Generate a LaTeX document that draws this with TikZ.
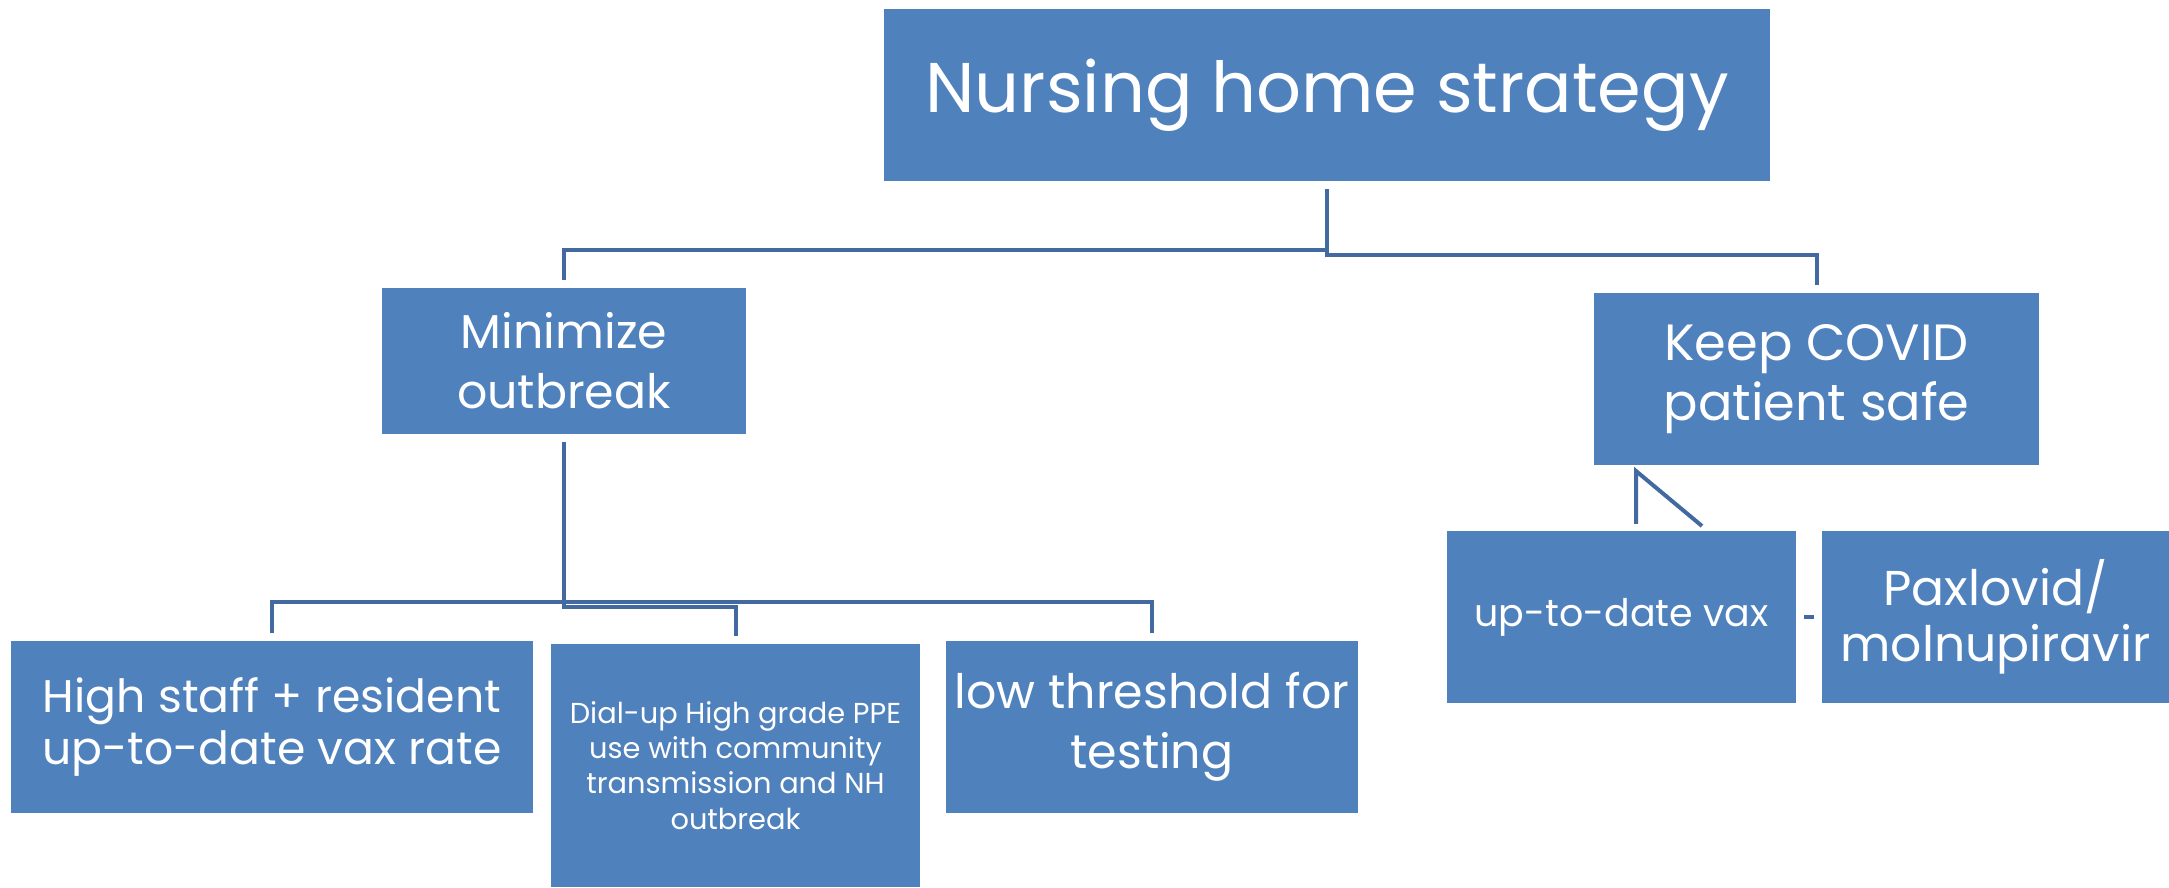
\documentclass[tikz,border=0pt]{standalone}
\usepackage{fontspec}
\setmainfont{Poppins}
\usepackage{tikz}
\usetikzlibrary{positioning}

\definecolor{boxblue}{RGB}{79,129,189}
\definecolor{linkblue}{RGB}{66,106,161}

\begin{document}
\begin{tikzpicture}[x=0.01cm,y=-0.01cm,line width=0.04cm,
                 		   link/.style={draw=linkblue,shorten <=0.06cm,shorten >=0.06cm}]
 				\tikzstyle{box}=[fill=boxblue,text=white,align=center,inner sep=0pt]
 				\tikzstyle{big}=[font=\fontsize{20}{24}\selectfont]
 				\tikzstyle{mid}=[font=\fontsize{13.5}{17}\selectfont]
 				\tikzstyle{small}=[font=\fontsize{8.2}{10}\selectfont]
				\useasboundingbox (0,0) rectangle (2169,887);

				\node[box,big,minimum width=8.86cm,minimum height=1.72cm]	(nhs)	at (1327,95)	{Nursing home strategy};
				\node[box,mid,minimum width=3.64cm,minimum height=1.46cm]	(minimize)	at (564,361)	{Minimize\\outbreak};
				\node[box,font=\fontsize{14.5}{17}\selectfont,minimum width=4.45cm,minimum height=1.71cm]	(keep)	at (1816.5,379)	{\raisebox{-0.08cm}{\shortstack{Keep COVID\\[-0.02cm]patient safe}}};
				\node[box,font=\fontsize{13}{15}\selectfont,minimum width=5.22cm,minimum height=1.72cm]	(staff)	at (272,727)	{High staff + resident\\up-to-date vax rate};
				\node[box,small,minimum width=3.69cm,minimum height=2.43cm]	(ppe)	at (735.5,765.5)	{Dial-up High grade PPE\\use with community\\transmission and NH\\outbreak};
				\node[box,mid,minimum width=4.12cm,minimum height=1.72cm]	(lowtest)	at (1152,727)	{low threshold for\\testing};
				\node[box,font=\fontsize{10.8}{12}\selectfont,minimum width=3.49cm,minimum height=1.72cm]	(vax)	at (1621.5,617)	{up-to-date vax};
				\node[box,font=\fontsize{13.9}{16}\selectfont,minimum width=3.47cm,minimum height=1.72cm]	(pax)	at (1995.5,617)	{Paxlovid/\\molnupiravir};

				% top level
				\draw[link] (nhs.south) -- ++(0,67) -| (minimize.north);
				\draw[link] (nhs.south) -- ++(0,72) -| (keep.north);
				% minimize branch
				\draw[link] (minimize.south) -- ++(0,166) -| (staff.north);
				\draw[link] (minimize.south) -- ++(0,171) -| (ppe.north);
				\draw[link] (minimize.south) -- ++(0,166) -| (lowtest.north);
				% keep branch
				\coordinate (kneck) at (1636,471);
				\coordinate (kfoot) at (1702,526);
				\draw[draw=linkblue,shorten <=0.05cm] (kneck |- vax.north) -- (kneck) -- (kfoot);
				\draw[link] (vax.east) -- (pax.west);
\end{tikzpicture}
\end{document}
